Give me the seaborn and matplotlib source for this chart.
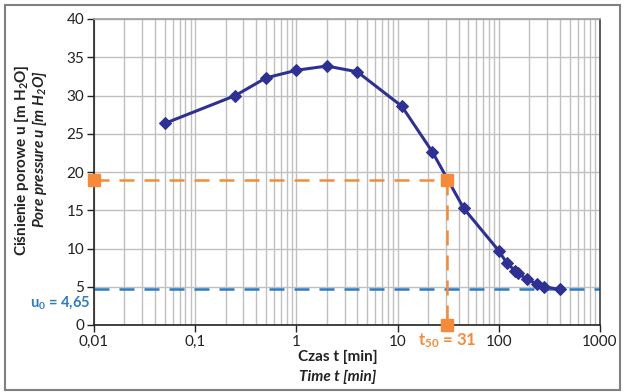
import numpy as np
import pandas as pd
import seaborn as sns
import matplotlib
matplotlib.use("Agg")
import matplotlib.pyplot as plt
from matplotlib.patches import Rectangle

# ---- data ----
time_min = [0.05, 0.25, 0.5, 1, 2, 4, 11, 22, 45, 100, 120, 145, 155, 190, 240, 280, 400]
pore_pressure = [26.35, 30.0, 32.3, 33.3, 33.85, 33.1, 28.6, 22.65, 15.25, 9.7, 8.1, 7.1, 6.75, 6.0, 5.35, 5.0, 4.65]
u0 = 4.65
t50 = 31
u50 = 19.0
y_ticks = [0, 5, 10, 15, 20, 25, 30, 35, 40]
x_ticks = [0.01, 0.1, 1, 10, 100, 1000]
x_tick_labels = ["0,01", "0,1", "1", "10", "100", "1000"]

df = pd.DataFrame({"t": time_min, "u": pore_pressure})

sns.set_theme(style="white")
plt.rcParams["font.family"] = ["Lato", "DejaVu Sans"]
plt.rcParams["mathtext.default"] = "regular"

NAVY = "#2E3192"
ORANGE = "#F58B3A"
BLUE = "#2E7BC4"
GRID = "#c0c0c0"

fig = plt.figure(figsize=(6.24, 3.92), dpi=100)
ax = fig.add_axes([94 / 624, 1 - 325 / 392, (600 - 94) / 624, (325 - 19) / 392])
ax.set_xscale("log")
ax.set_xlim(0.01, 1000)
ax.set_ylim(0, 40)

ax.grid(which="major", axis="both", color=GRID, lw=1.0, zorder=0)
ax.grid(which="minor", axis="x", color=GRID, lw=1.0, zorder=0)
ax.set_axisbelow(True)

# reference lines
ax.axhline(u0, color=BLUE, lw=1.8, dashes=(6, 4), zorder=2)
ax.plot([0.01, t50], [u50, u50], color=ORANGE, lw=1.8, dashes=(6, 4), zorder=2)
ax.plot([t50, t50], [u50, 0], color=ORANGE, lw=1.8, dashes=(6, 4), zorder=2)
ax.plot([0.01, t50, t50], [u50, u50, 0], ls="none", marker="s", ms=8,
        color=ORANGE, clip_on=False, zorder=5)

sns.lineplot(data=df, x="t", y="u", ax=ax, color=NAVY, lw=2.2, marker="D",
             markersize=6.5, markeredgecolor=NAVY, zorder=4, legend=False)

ax.set_xticks(x_ticks)
ax.set_xticklabels(x_tick_labels)
ax.set_yticks(y_ticks)
ax.xaxis.set_minor_formatter(matplotlib.ticker.NullFormatter())
ax.tick_params(axis="both", which="major", labelsize=11, colors="#222222",
               length=5, width=1, direction="out", pad=2)
ax.tick_params(axis="x", which="minor", length=0)
ax.tick_params(bottom=True, left=True)
ax.set_xlabel("")
ax.set_ylabel("")

for s in ["left", "bottom"]:
    ax.spines[s].set_color("#222222")
    ax.spines[s].set_linewidth(1.2)
ax.spines["top"].set_color("#a0a0a0")
ax.spines["right"].set_color("#404040")
ax.spines["right"].set_linewidth(1.2)

# axis titles
fig.text(22 / 624, 1 - 160 / 392, "Ciśnienie porowe u [m H$_2$O]", rotation=90,
         ha="center", va="center", fontsize=11, fontweight="bold", color="#222222")
fig.text(40 / 624, 1 - 149 / 392, "Pore pressure u [m H$_2$O]", rotation=90,
         ha="center", va="center", fontsize=11, fontweight="bold", style="italic",
         color="#222222")
fig.text(338 / 624, 1 - 357 / 392, "Czas t [min]", ha="center", va="center",
         fontsize=11, fontweight="bold", color="#222222")
fig.text(338 / 624, 1 - 377 / 392, "Time t [min]", ha="center", va="center",
         fontsize=11, fontweight="bold", style="italic", color="#222222")

# annotations
fig.text(90 / 624, 1 - 303 / 392, "u$_0$ = 4,65", ha="right", va="center",
         fontsize=10.5, fontweight="bold", color=BLUE)
fig.text(447 / 624, 1 - 341 / 392, "t$_{50}$ = 31", ha="center", va="center",
         fontsize=12, fontweight="bold", color=ORANGE)

# outer frame
fig.patches.append(Rectangle((5 / 624, 2 / 392), 615 / 624, 385 / 392,
                             transform=fig.transFigure, fill=False,
                             edgecolor="#808080", lw=1.5))

fig.savefig("out.png", dpi=100)
